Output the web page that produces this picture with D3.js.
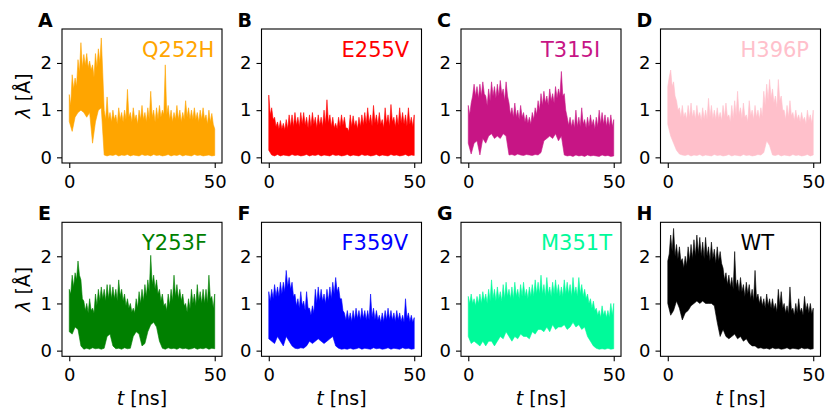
<!DOCTYPE html>
<html lang="en">
<head>
<meta charset="utf-8">
<title>Mutant trajectories</title>
<script src="https://d3js.org/d3.v7.min.js"></script>
<style>
    body { margin: 0; background: #fff; }
    text { font-family: 'DejaVu Sans', sans-serif; fill: #000; }
    .tick text { font-size: 18px; }
    .frame { fill: none; stroke: #000; stroke-width: 1.1; }
    .tick line { stroke: #000; stroke-width: 1.1; }
    .letter { font-size: 19px; font-weight: bold; }
    .name { font-size: 21px; }
    .axlabel { font-size: 19px; }
</style>
</head>
<body>
<svg width="827" height="411"></svg>
<script>
// time grids (ns): upper edge read every 0.5 ns, lower edge every 1 ns
var timesHi = [0,0.5,1,1.5,2,2.5,3,3.5,4,4.5,5,5.5,6,6.5,7,7.5,8,8.5,9,9.5,
               10,10.5,11,11.5,12,12.5,13,13.5,14,14.5,15,15.5,16,16.5,17,17.5,18,18.5,19,19.5,
               20,20.5,21,21.5,22,22.5,23,23.5,24,24.5,25,25.5,26,26.5,27,27.5,28,28.5,29,29.5,
               30,30.5,31,31.5,32,32.5,33,33.5,34,34.5,35,35.5,36,36.5,37,37.5,38,38.5,39,39.5,
               40,40.5,41,41.5,42,42.5,43,43.5,44,44.5,45,45.5,46,46.5,47,47.5,48,48.5,49,49.5,50];
var timesLo = [0,1,2,3,4,5,6,7,8,9,10,11,12,13,14,15,16,17,18,19,20,21,22,23,24,25,
               26,27,28,29,30,31,32,33,34,35,36,37,38,39,40,41,42,43,44,45,46,47,48,49,50];
var xTicks = [0, 50];
var yTicks = [0, 1, 2];
var letters = ["A","B","C","D","E","F","G","H"];
var names = ["Q252H","E255V","T315I","H396P","Y253F","F359V","M351T","WT"];
var colors = ["#FFA500","#FF0000","#C71585","#FFC0CB","#008000","#0000FF","#00FA9A","#000000"];

// upper edge of lambda (Å), 0.5 ns steps
var q252hHi = [1.33,1.1,1.75,1.45,1.68,1.5,2.07,1.8,2.43,1.9,2.18,1.95,2.2,1.9,2.04,1.85,1.96,1.7,2.2,1.9,
               2.3,2.0,2.53,1.8,1.0,0.8,1.28,0.8,0.95,0.75,1.0,0.8,0.9,0.7,1.05,0.8,0.95,0.75,1.0,0.8,
               1.44,0.85,0.95,0.75,1.05,0.8,0.9,0.7,1.0,0.8,1.1,0.8,0.95,0.75,1.05,0.8,1.4,0.85,1.0,0.75,
               1.05,0.8,1.1,0.85,1.0,0.9,1.96,0.9,1.1,0.8,1.0,0.75,0.95,0.8,1.1,0.8,1.0,0.75,0.95,0.8,
               1.2,0.85,1.05,0.8,1.0,0.8,1.05,0.8,0.95,0.75,1.0,0.8,1.05,0.8,0.9,0.7,1.0,0.75,0.93,0.7,0.6];
var e255vHi = [1.32,0.9,1.05,0.8,0.85,0.65,0.75,0.6,0.78,0.6,0.72,0.58,0.8,0.6,0.9,0.65,0.9,0.65,0.95,0.68,
               0.85,0.65,0.95,0.7,0.95,0.68,0.85,0.62,0.9,0.65,0.95,0.7,0.85,0.62,0.9,0.68,0.85,0.65,1.0,0.7,
               1.22,0.72,0.9,0.65,0.85,0.62,0.72,0.6,0.85,0.65,0.9,0.68,0.85,0.62,0.62,0.55,0.9,0.65,0.88,0.66,
               0.78,0.6,0.85,0.65,0.9,0.68,0.95,0.7,1.05,0.72,0.9,0.66,1.1,0.72,0.9,0.68,0.95,0.7,0.8,0.62,
               1.05,0.72,0.9,0.66,1.12,0.75,0.85,0.65,0.9,0.68,1.05,0.72,0.95,0.7,0.9,0.66,1.05,0.7,0.85,0.65,0.9];
var t315iHi = [1.1,0.9,1.15,1.3,1.55,1.3,1.5,1.25,1.55,1.3,1.6,1.35,1.3,1.1,1.45,1.2,1.6,1.3,1.5,1.25,
               1.55,1.3,1.63,1.35,1.45,1.2,1.6,1.3,1.15,0.9,1.05,0.85,1.15,0.85,1.0,0.8,1.1,0.85,0.95,0.75,
               0.9,0.72,0.85,0.7,0.95,0.8,1.05,0.9,1.2,1.0,1.35,1.1,1.4,1.15,1.3,1.1,1.45,1.2,1.35,1.15,
               1.5,1.25,1.45,1.3,1.82,1.3,1.35,1.0,0.85,0.68,0.85,0.65,0.8,0.62,1.0,0.65,0.85,0.65,1.05,0.7,
               0.8,0.62,0.85,0.65,0.9,0.68,0.8,0.6,0.85,0.65,1.0,0.7,0.95,0.7,0.9,0.66,0.85,0.65,0.9,0.65,0.8];
var h396pHi = [1.5,1.7,1.85,1.5,1.6,1.3,1.2,1.0,1.05,0.85,1.1,0.85,0.95,0.8,1.1,0.85,1.15,0.85,1.0,0.8,
               1.1,0.85,0.95,0.78,1.05,0.8,1.0,0.8,1.25,0.85,1.1,0.82,1.0,0.8,1.05,0.82,0.95,0.78,1.1,0.85,
               1.15,0.85,0.9,0.75,1.1,0.82,1.2,0.88,1.4,0.9,1.05,0.82,1.15,0.85,0.9,0.75,1.2,0.88,1.0,0.8,
               1.1,0.85,1.0,0.8,1.05,0.85,1.4,1.1,1.55,1.2,1.65,1.25,1.45,1.15,1.3,1.05,1.65,1.2,1.3,1.0,
               1.0,0.8,1.1,0.85,1.2,0.88,0.95,0.78,1.0,0.8,0.9,0.75,0.95,0.78,0.85,0.7,1.0,0.78,0.9,0.72,1.0];
var y253fHi = [1.3,1.2,1.6,1.35,1.65,1.5,1.9,1.6,1.5,1.1,1.05,0.85,1.0,0.8,1.1,0.85,0.9,0.8,1.2,0.95,
               1.3,1.05,1.35,1.1,1.3,1.05,1.4,1.1,1.4,1.1,1.35,1.1,1.3,1.05,1.5,1.15,1.3,1.05,1.2,0.95,
               1.1,0.9,1.0,0.82,0.9,0.8,1.1,0.9,1.25,1.0,1.3,1.05,1.4,1.15,1.5,1.25,2.02,1.4,1.6,1.3,
               1.5,1.2,1.3,1.05,1.2,0.95,1.0,0.85,1.2,0.95,1.3,1.05,1.6,1.15,1.4,1.1,1.3,1.05,1.2,0.95,
               1.0,0.82,1.1,0.88,1.3,1.0,1.2,0.95,1.4,1.05,1.25,1.0,1.3,1.0,1.3,1.0,1.6,1.1,1.15,0.9,1.2];
var f359vHi = [1.25,1.05,1.3,1.1,1.4,1.15,1.35,1.15,1.45,1.2,1.45,1.25,1.7,1.35,1.55,1.3,1.45,1.15,1.2,0.95,
               1.1,0.9,1.25,0.95,1.05,0.85,1.25,0.9,0.9,0.75,0.95,0.8,1.3,1.0,1.35,1.05,1.3,1.05,1.2,1.0,
               1.3,1.05,1.35,1.1,1.45,1.2,1.55,1.25,1.35,1.1,1.1,0.85,0.8,0.65,0.85,0.65,0.8,0.62,0.85,0.65,
               0.9,0.68,0.85,0.65,0.9,0.68,0.85,0.65,0.85,0.65,1.2,0.7,0.9,0.66,0.85,0.65,0.75,0.6,0.8,0.62,
               0.85,0.65,0.9,0.66,0.85,0.65,0.8,0.62,0.85,0.65,0.8,0.62,0.75,0.6,1.1,0.68,0.8,0.62,0.75,0.6,0.7];
var m351tHi = [1.15,1.0,1.2,1.0,1.1,0.95,1.15,1.0,1.2,1.0,1.25,1.05,1.2,1.0,1.3,1.05,1.5,1.1,1.3,1.05,
               1.35,1.1,1.25,1.05,1.4,1.1,1.45,1.15,1.3,1.1,1.35,1.1,1.45,1.15,1.3,1.1,1.4,1.15,1.45,1.15,
               1.3,1.1,1.35,1.15,1.4,1.15,1.5,1.2,1.45,1.2,1.6,1.2,1.4,1.15,1.55,1.2,1.35,1.15,1.45,1.2,
               1.5,1.2,1.4,1.15,1.35,1.15,1.5,1.2,1.45,1.2,1.4,1.15,1.55,1.2,1.35,1.15,1.55,1.2,1.4,1.15,
               1.3,1.1,1.2,1.0,1.1,0.9,1.05,0.85,0.9,0.75,0.85,0.7,0.95,0.75,0.85,0.7,0.85,0.7,1.0,0.75,1.0];
var wtHi = [1.9,2.05,2.45,2.1,2.59,2.0,2.25,1.95,2.2,1.9,1.95,1.75,2.0,1.8,2.2,1.9,2.25,1.95,2.35,2.0,
            2.45,2.05,2.4,2.0,2.3,1.95,2.4,2.0,2.2,1.9,2.3,1.95,2.15,1.85,2.2,1.9,2.1,1.85,1.75,1.5,
            1.65,1.4,1.6,1.35,1.55,1.3,2.1,1.35,1.5,1.25,1.55,1.25,1.4,1.15,1.45,1.2,1.4,1.1,1.3,1.05,
            1.7,1.1,1.2,1.0,1.15,0.95,1.1,0.9,1.2,0.95,1.1,0.9,1.1,0.88,1.0,0.82,1.3,0.95,1.25,0.9,
            1.0,0.8,0.95,0.78,1.35,0.85,0.9,0.75,1.0,0.8,1.1,0.82,0.9,0.75,1.15,0.85,1.0,0.8,1.0,0.78,0.9];

// lower edge of lambda (Å), 1 ns steps
var q252hLo = [0.76,0.55,0.85,0.95,1.0,0.95,0.85,0.95,0.3,0.75,1.0,1.05,0.05,0.03,0.05,0.04,0.06,0.03,0.05,0.04,
               0.06,0.03,0.05,0.04,0.03,0.06,0.04,0.05,0.03,0.06,0.04,0.05,0.03,0.04,0.06,0.03,0.05,0.04,0.06,0.03,
               0.05,0.04,0.03,0.06,0.04,0.05,0.03,0.04,0.05,0.03,0.04];
var e255vLo = [0.15,0.05,0.03,0.06,0.03,0.05,0.04,0.03,0.06,0.04,0.05,0.03,0.04,0.06,0.03,0.05,0.04,0.06,0.03,0.05,
               0.04,0.03,0.06,0.04,0.05,0.03,0.04,0.06,0.03,0.05,0.04,0.03,0.06,0.04,0.05,0.03,0.04,0.06,0.03,0.05,
               0.04,0.03,0.06,0.04,0.05,0.03,0.04,0.06,0.03,0.05,0.04];
var t315iLo = [0.3,0.07,0.3,0.35,0.05,0.4,0.3,0.45,0.5,0.4,0.45,0.4,0.5,0.45,0.05,0.06,0.04,0.07,0.05,0.04,
               0.06,0.05,0.04,0.06,0.05,0.1,0.35,0.4,0.45,0.4,0.5,0.35,0.45,0.05,0.03,0.04,0.02,0.05,0.03,0.04,
               0.02,0.05,0.03,0.04,0.03,0.02,0.05,0.03,0.04,0.02,0.03];
var h396pLo = [0.7,0.45,0.3,0.15,0.07,0.05,0.04,0.06,0.03,0.05,0.04,0.06,0.03,0.05,0.04,0.03,0.06,0.04,0.05,0.03,
               0.04,0.06,0.03,0.05,0.04,0.03,0.06,0.04,0.05,0.03,0.04,0.06,0.05,0.1,0.35,0.25,0.05,0.04,0.06,0.03,
               0.05,0.04,0.03,0.06,0.04,0.05,0.03,0.04,0.06,0.03,0.05];
var y253fLo = [0.4,0.35,0.5,0.45,0.1,0.03,0.05,0.03,0.06,0.04,0.05,0.03,0.05,0.3,0.35,0.1,0.04,0.05,0.03,0.06,
               0.04,0.05,0.3,0.4,0.35,0.1,0.15,0.4,0.55,0.6,0.5,0.2,0.05,0.03,0.06,0.04,0.05,0.03,0.06,0.04,
               0.05,0.03,0.04,0.06,0.03,0.05,0.04,0.06,0.03,0.05,0.04];
var f359vLo = [0.25,0.2,0.15,0.3,0.2,0.1,0.3,0.2,0.1,0.05,0.04,0.06,0.05,0.1,0.2,0.15,0.2,0.25,0.2,0.15,
               0.2,0.25,0.3,0.1,0.05,0.03,0.04,0.03,0.05,0.03,0.04,0.06,0.03,0.05,0.04,0.03,0.06,0.04,0.05,0.03,
               0.04,0.06,0.03,0.05,0.04,0.03,0.06,0.04,0.05,0.03,0.04];
var m351tLo = [0.3,0.15,0.2,0.15,0.1,0.2,0.1,0.2,0.2,0.1,0.2,0.3,0.25,0.4,0.3,0.2,0.3,0.25,0.35,0.3,
               0.3,0.25,0.4,0.35,0.45,0.45,0.4,0.5,0.4,0.55,0.45,0.5,0.5,0.55,0.45,0.5,0.6,0.5,0.55,0.45,
               0.5,0.3,0.2,0.1,0.05,0.03,0.04,0.03,0.05,0.03,0.04];
var wtLo = [1.0,0.75,0.85,1.05,0.9,0.65,0.8,0.85,0.95,1.0,1.05,1.0,1.05,1.0,1.0,1.0,0.95,0.6,0.3,0.45,
            0.3,0.25,0.3,0.35,0.25,0.3,0.2,0.25,0.15,0.1,0.1,0.05,0.06,0.04,0.05,0.03,0.06,0.04,0.05,0.03,
            0.04,0.06,0.03,0.05,0.04,0.03,0.06,0.04,0.05,0.03,0.04];

var highs = [q252hHi, e255vHi, t315iHi, h396pHi, y253fHi, f359vHi, m351tHi, wtHi];
var lows  = [q252hLo, e255vLo, t315iLo, h396pLo, y253fLo, f359vLo, m351tLo, wtLo];

var svg = d3.select("svg");
var pw = 160, ph = 134;
var lefts = [62, 261.5, 461, 660.5];
var tops = [29, 222.3];

var x = d3.scaleLinear().domain([-2.5, 52.5]).range([0, pw]);
var y = d3.scaleLinear().domain([-0.12, 2.72]).range([ph, 0]);

var line = d3.line()
    .x(function(d) { return x(d.t); })
    .y(function(d) { return y(d.v); });

names.forEach(function(name, i) {
    var col = i % 4, row = Math.floor(i / 4);
    var g = svg.append("g").attr("transform", "translate(" + lefts[col] + "," + tops[row] + ")");

    // band = upper edge left to right, then lower edge back
    var top = timesHi.map(function(t, k) { return {t: t, v: highs[i][k]}; });
    var bottom = timesLo.map(function(t, k) { return {t: t, v: lows[i][k]}; }).reverse();

    g.append("path")
        .attr("d", line(top.concat(bottom)) + "Z")
        .attr("fill", colors[i])
        .attr("stroke", colors[i])
        .attr("stroke-width", 0.6);

    g.append("g")
        .attr("transform", "translate(0," + ph + ")")
        .call(d3.axisBottom(x).tickValues(xTicks).tickSize(5).tickPadding(7).tickFormat(d3.format("d")))
        .call(function(a) { a.select(".domain").remove(); });
    g.append("g")
        .call(d3.axisLeft(y).tickValues(yTicks).tickSize(5).tickPadding(5).tickFormat(d3.format("d")))
        .call(function(a) { a.select(".domain").remove(); });
    g.selectAll(".tick text").attr("fill", "#000").attr("font-family", "DejaVu Sans");

    g.append("rect").attr("class", "frame").attr("width", pw).attr("height", ph);

    g.append("text").attr("class", "letter")
        .attr("x", -24).attr("y", -2)
        .text(letters[i]);

    g.append("text").attr("class", "name")
        .attr("x", 80).attr("y", 28)
        .style("fill", colors[i])
        .text(name);

    if (col === 0) {
        var yl = g.append("text").attr("class", "axlabel")
            .attr("transform", "translate(-32," + (ph / 2) + ") rotate(-90)")
            .attr("text-anchor", "middle");
        yl.append("tspan").style("font-style", "italic").text("λ");
        yl.append("tspan").text(" [Å]");
    }
    if (row === 1) {
        var xl = g.append("text").attr("class", "axlabel")
            .attr("x", pw / 2).attr("y", ph + 49)
            .attr("text-anchor", "middle");
        xl.append("tspan").style("font-style", "italic").text("t");
        xl.append("tspan").text(" [ns]");
    }
});
</script>
</body>
</html>
